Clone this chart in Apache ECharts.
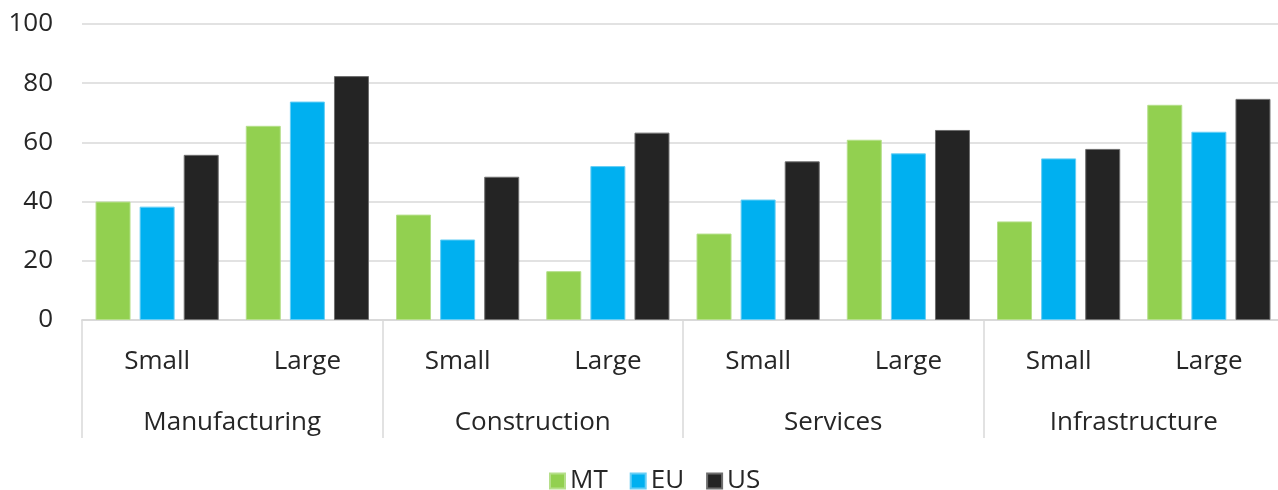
<!DOCTYPE html>
<html><head><meta charset="utf-8">
<script src="https://cdn.jsdelivr.net/npm/echarts@6/dist/echarts.min.js"></script>
<style>html,body{margin:0;padding:0;background:#fff;overflow:hidden}#c{width:1284px;height:490px}</style>
</head><body><div id="c"></div>
<script>
const sizes = ['Small','Large','Small','Large','Small','Large','Small','Large'];
const sectors = ['Manufacturing','Construction','Services','Infrastructure'];
const yTicks = [0,20,40,60,80,100];
const seriesNames = ['MT','EU','US'];
const mt = [40, 65.6, 35.6, 16.5, 29.2, 60.9, 33.3, 72.7];
const eu = [38.3, 73.8, 27.2, 52.0, 40.7, 56.3, 54.6, 63.6];
const us = [55.8, 82.4, 48.4, 63.3, 53.6, 64.2, 57.8, 74.7];
const colors = ['#92D050','#00B0F0','#242424'];
const borders = ['#B5DF8A','#66CEF5','#6E6E6E'];
const font = '"Open Sans", "Noto Sans", sans-serif';
const chart = echarts.init(document.getElementById('c'));
const vals = [mt, eu, us];
chart.setOption({
  animation:false,
  textStyle:{fontFamily:font},
  grid:{left:82, top:24, right:0, height:296, containLabel:false},
  legend:{data:seriesNames, left:544, top:463, itemWidth:15, itemHeight:15, itemGap:22,
    icon:'rect', textStyle:{fontSize:26, color:'#262626', fontFamily:font}},
  xAxis:[{
    type:'category', data:sizes, position:'bottom',
    axisLine:{show:true, lineStyle:{color:'#D9D9D9', width:1.5}},
    axisTick:{show:false},
    axisLabel:{fontSize:26, color:'#262626', margin:29, fontFamily:font}
  },{
    type:'category', data:sectors, position:'bottom', offset:0,
    axisLine:{show:true, lineStyle:{color:'#D9D9D9', width:1.5}},
    axisTick:{show:true, interval:0, length:118, lineStyle:{color:'#D9D9D9', width:1.5}},
    axisLabel:{fontSize:26, color:'#262626', margin:90, fontFamily:font}
  }],
  yAxis:{type:'value', min:yTicks[0], max:yTicks[yTicks.length-1], interval:20,
    axisLine:{show:false}, axisTick:{show:false},
    axisLabel:{fontSize:26, color:'#262626', margin:29, fontFamily:font},
    splitLine:{lineStyle:{color:'#D9D9D9', width:1.5}}},
  series: seriesNames.map((n,i)=>({
    name:n, type:'bar', xAxisIndex:0, data:vals[i], barWidth:35, barGap:'26%',
    itemStyle:{color:colors[i], borderColor:borders[i], borderWidth:1}
  }))
});
</script></body></html>
